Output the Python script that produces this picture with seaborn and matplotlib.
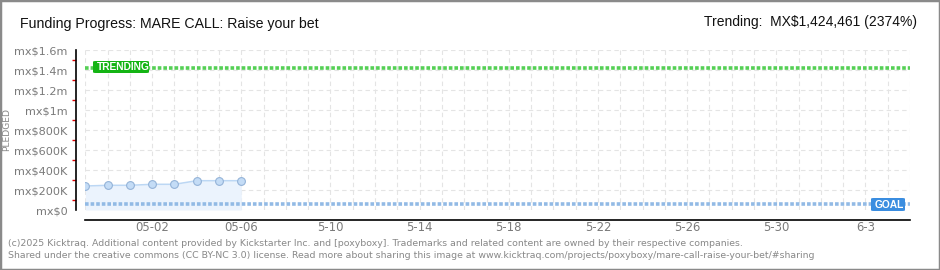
import matplotlib
matplotlib.use("Agg")
import matplotlib.pyplot as plt
import seaborn as sns
import pandas as pd
import numpy as np
from matplotlib.patches import Rectangle, FancyBboxPatch

# ---- data ----
dates = ["2025-04-29", "2025-04-30", "2025-05-01", "2025-05-02",
         "2025-05-03", "2025-05-04", "2025-05-05", "2025-05-06"]
pledged = [240000, 247000, 247000, 257000, 257000, 293000, 293000, 293000]
goal = 60000
trending = 1424461
start_date = "2025-04-29"
end_date = "2025-06-05"
ytick_values = [0, 200000, 400000, 600000, 800000, 1000000, 1200000, 1400000, 1600000]
ytick_labels = ["mx$0", "mx$200K", "mx$400K", "mx$600K", "mx$800K",
                "mx$1m", "mx$1.2m", "mx$1.4m", "mx$1.6m"]
xtick_dates = ["2025-05-02", "2025-05-06", "2025-05-10", "2025-05-14", "2025-05-18",
               "2025-05-22", "2025-05-26", "2025-05-30", "2025-06-03"]
xtick_labels = ["05-02", "05-06", "5-10", "5-14", "5-18", "5-22", "5-26", "5-30", "6-3"]

sns.set_theme(style="white")
plt.rcParams['font.family'] = ['DejaVu Sans']

t0 = pd.Timestamp(start_date)
df = pd.DataFrame({"day": [(pd.Timestamp(d) - t0).days for d in dates],
                   "pledged": pledged})
n_days = (pd.Timestamp(end_date) - t0).days
xt = [(pd.Timestamp(d) - t0).days for d in xtick_dates]

W, H = 940, 270
fig = plt.figure(figsize=(W / 100, H / 100), dpi=100)
fig.patch.set_facecolor("white")
x0, x1 = 85.3, 910
y0, y1 = 210, 50
ax = fig.add_axes([x0 / W, 1 - y0 / H, (x1 - x0) / W, (y0 - y1) / H])
ax.set_facecolor("white")
ax.set_xlim(0, n_days)
ax.set_ylim(0, 1600000)

# grid
for d in range(0, n_days + 1):
    ax.axvline(d, color="#e4e4e4", lw=0.8, ls=(0, (4, 3)), zorder=0)
for v in ytick_values:
    ax.axhline(v, color="#e4e4e4", lw=0.8, ls=(0, (4, 3)), zorder=0)

# fill + line
ax.fill_between(df["day"], 0, df["pledged"], color="#ebf3fd", zorder=1, lw=0)
sns.lineplot(data=df, x="day", y="pledged", ax=ax, color="#bcd7f4", lw=1.1,
             marker="o", markersize=5.6, markerfacecolor="#c4dcf6",
             markeredgecolor="#94b3d8", markeredgewidth=0.8, zorder=3)

# trending & goal lines
ax.axhline(trending, color="#55d055", lw=2.6, ls=(0, (1.0, 0.55)), zorder=2)
ax.axhline(goal, color="#92bae5", lw=2.6, ls=(0, (1.0, 0.55)), zorder=2)

# label boxes (in pixel space)
def pix_box(xa, ya, xb, yb, fc, text):
    r = FancyBboxPatch((xa / W, 1 - yb / H), (xb - xa) / W, (yb - ya) / H,
                       boxstyle="round,pad=0,rounding_size=0.003",
                       transform=fig.transFigure, facecolor=fc, edgecolor="none", zorder=5)
    fig.patches.append(r)
    fig.text((xa + 3.5) / W, 1 - (ya + yb) / 2 / H, text, color="white", fontsize=7.4,
             fontweight="bold", ha="left", va="center", zorder=6,
             family=["Liberation Sans", "DejaVu Sans"])

pix_box(93, 61, 149, 73, "#14b414", "TRENDING")
pix_box(871, 198, 905, 211, "#3a8de0", "GOAL")

# axes styling
for s in ["top", "right"]:
    ax.spines[s].set_visible(False)
ax.spines["left"].set_position(("outward", 6.8))
ax.spines["bottom"].set_position(("outward", 7.2))
ax.spines["left"].set_color("black")
ax.spines["bottom"].set_color("black")
ax.spines["left"].set_linewidth(1.2)
ax.spines["bottom"].set_linewidth(1.2)

ax.set_yticks(ytick_values)
ax.set_yticklabels(ytick_labels)
ax.set_yticks(np.arange(100000, 1600000, 200000), minor=True)
ax.tick_params(axis="y", which="major", direction="out", length=3.5, width=1.2,
               color="black", labelsize=8.1, labelcolor="#7a7a7a", pad=2.5)
ax.tick_params(axis="y", which="minor", direction="out", length=3, width=1.0,
               color="#e00000", left=True)

ax.set_xticks(range(0, n_days + 1))
ax.set_xticklabels(["" for _ in range(0, n_days + 1)])
ax.set_xticks([], minor=True)
ax.tick_params(axis="x", which="major", direction="inout", length=7, width=1.2,
               color="black")
for d, lab in zip(xt, xtick_labels):
    ax.text(d, -0.11, lab, transform=ax.get_xaxis_transform(), ha="center", va="center",
            fontsize=8.4, color="#7a7a7a")

ax.set_xlabel("")
ax.set_ylabel("")
fig.text(7 / W, 1 - 130 / H, "PLEDGED", rotation=90, ha="center", va="center",
         fontsize=6.6, color="#888888")

# title texts
fig.text(20 / W, 1 - 24 / H, "Funding Progress: MARE CALL: Raise your bet",
         fontsize=10.2, color="#111111", ha="left", va="center",
         family=["Liberation Sans", "DejaVu Sans"])
fig.text(917 / W, 1 - 22 / H, "Trending:  MX$1,424,461 (2374%)",
         fontsize=10.0, color="#111111", ha="right", va="center",
         family=["Liberation Sans", "DejaVu Sans"])

# footer
fig.text(8 / W, 1 - 243 / H,
         "(c)2025 Kicktraq. Additional content provided by Kickstarter Inc. and [poxyboxy]. "
         "Trademarks and related content are owned by their respective companies.",
         fontsize=6.75, color="#888888", ha="left", va="center")
fig.text(8 / W, 1 - 256 / H,
         "Shared under the creative commons (CC BY-NC 3.0) license. Read more about sharing "
         "this image at www.kicktraq.com/projects/poxyboxy/mare-call-raise-your-bet/#sharing",
         fontsize=6.75, color="#888888", ha="left", va="center")

# border
fig.patches.append(Rectangle((0, 0), 1, 1, transform=fig.transFigure, fill=False,
                             edgecolor="#8a8a8a", lw=2.5, zorder=10))

fig.savefig("out.png", dpi=100)
